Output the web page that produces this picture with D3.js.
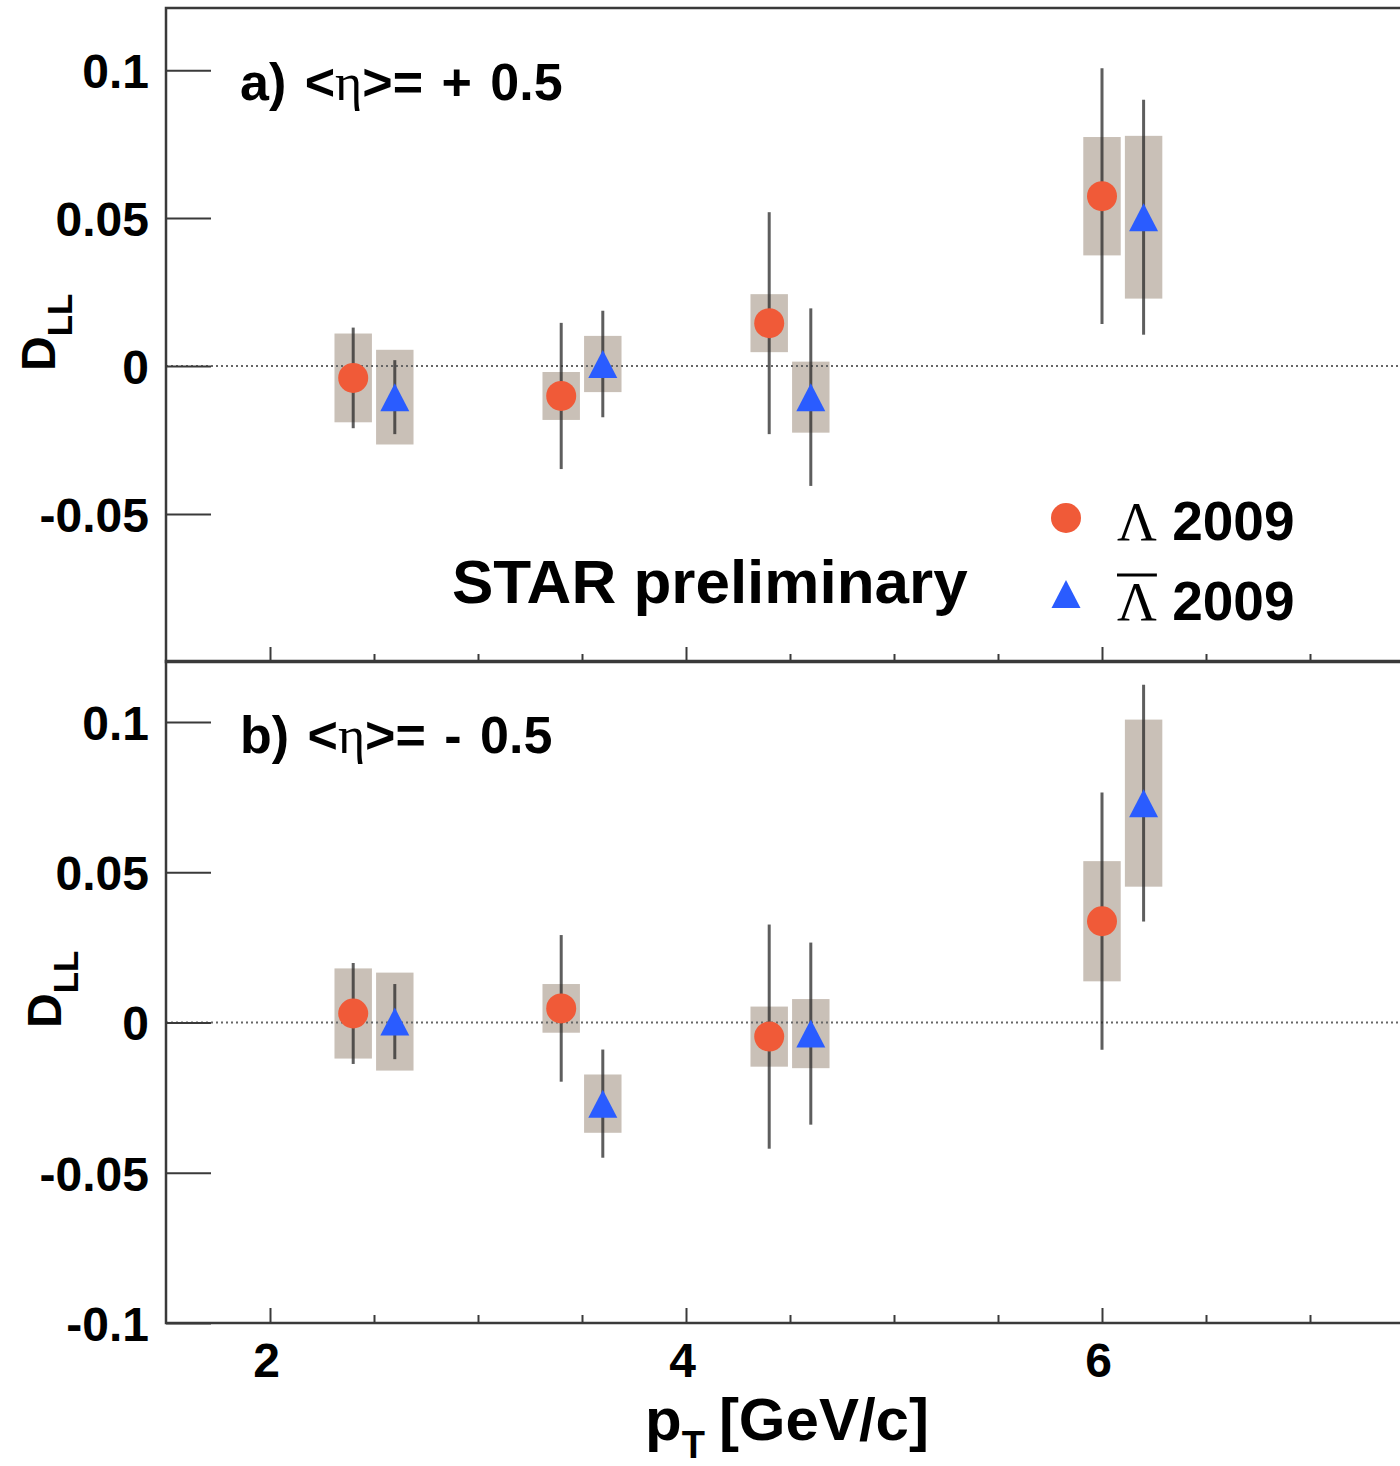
<!DOCTYPE html>
<html>
<head>
<meta charset="utf-8">
<script src="https://cdn.jsdelivr.net/npm/d3@7"></script>
<style>
body { margin: 0; background: #fff; }
svg text { font-family: "Liberation Sans", Arial, Helvetica, sans-serif; font-weight: bold; fill: #000; }
svg .greek { font-family: "Liberation Serif", "DejaVu Serif", serif; font-weight: normal; }
</style>
</head>
<body>
<svg id="chart" width="1400" height="1466"></svg>
<script>
// pT bin centres, Lambda and anti-Lambda shifted apart
var ptLambda = [2.4, 3.4, 4.4, 6.0];
var ptAnti = [2.6, 3.6, 4.6, 6.2];

// a) <eta> = +0.5
var dllLambdaA  = [-0.0040, -0.0101, 0.0145, 0.0574];
var statLambdaA = [0.0170, 0.0247, 0.0375, 0.0432];
var sysLambdaA  = [0.0150, 0.0081, 0.0098, 0.0200];
var dllAntiA    = [-0.0105, 0.0007, -0.0105, 0.0503];
var statAntiA   = [0.0125, 0.0180, 0.0300, 0.0397];
var sysAntiA    = [0.0160, 0.0095, 0.0120, 0.0275];

// b) <eta> = -0.5
var dllLambdaB  = [0.0030, 0.0047, -0.0047, 0.0337];
var statLambdaB = [0.0168, 0.0244, 0.0373, 0.0428];
var sysLambdaB  = [0.0150, 0.0081, 0.0100, 0.0200];
var dllAntiB    = [0.0003, -0.0270, -0.0037, 0.0730];
var statAntiB   = [0.0125, 0.0180, 0.0303, 0.0394];
var sysAntiB    = [0.0163, 0.0097, 0.0115, 0.0278];

var yTicksA = [-0.05, 0, 0.05, 0.1];
var yTicksB = [-0.1, -0.05, 0, 0.05, 0.1];
var xMajorTicks = [2, 4, 6];
var xMinorTicks = [2.5, 3, 3.5, 4.5, 5, 5.5, 6.5, 7, 7.5];

var BOX_HALF = 0.09;  // half width of systematic boxes, in pT units
var RED = '#f05a38', BLUE = '#2a5cff';
var FRAME = '#3a3a3a';

var svg = d3.select('#chart');

var x = d3.scaleLinear().domain([1.5, 8]).range([166, 1518]);

function series(pt, dll, stat, sys) {
    return pt.map(function (p, i) {
        return { pt: p, dll: dll[i], stat: stat[i], sys: sys[i] };
    });
}

var panels = [
    {
        y: d3.scaleLinear().domain([-0.1, 0.121]).range([662, 8]),
        yTicks: yTicksA,
        lambda: series(ptLambda, dllLambdaA, statLambdaA, sysLambdaA),
        anti: series(ptAnti, dllAntiA, statAntiA, sysAntiA),
        xLabels: false
    },
    {
        y: d3.scaleLinear().domain([-0.1, 0.1203]).range([1323, 661]),
        yTicks: yTicksB,
        lambda: series(ptLambda, dllLambdaB, statLambdaB, sysLambdaB),
        anti: series(ptAnti, dllAntiB, statAntiB, sysAntiB),
        xLabels: true
    }
];

var triangle = 'M0,-14L14.5,14L-14.5,14Z';

function drawPanel(p) {
    var y = p.y;
    var g = svg.append('g');
    var y0 = y.range()[0], y1 = y.range()[1];

    var all = p.lambda.concat(p.anti);

    // systematic boxes
    g.selectAll('rect.sys')
        .data(all)
        .enter().append('rect')
        .attr('class', 'sys')
        .attr('x', function (d) { return x(d.pt - BOX_HALF); })
        .attr('width', function (d) { return x(d.pt + BOX_HALF) - x(d.pt - BOX_HALF); })
        .attr('y', function (d) { return y(d.dll + d.sys); })
        .attr('height', function (d) { return y(d.dll - d.sys) - y(d.dll + d.sys); })
        .style('fill', '#c9c0b7');

    // zero line
    g.append('line')
        .attr('x1', x.range()[0]).attr('x2', x.range()[1])
        .attr('y1', y(0)).attr('y2', y(0))
        .style('stroke', '#666')
        .style('stroke-width', 2)
        .style('stroke-dasharray', '2,3');

    // statistical error bars
    g.selectAll('line.stat')
        .data(all)
        .enter().append('line')
        .attr('class', 'stat')
        .attr('x1', function (d) { return x(d.pt); })
        .attr('x2', function (d) { return x(d.pt); })
        .attr('y1', function (d) { return y(d.dll + d.stat); })
        .attr('y2', function (d) { return y(d.dll - d.stat); })
        .style('stroke', 'rgba(40,40,40,0.75)')
        .style('stroke-width', 3);

    g.selectAll('circle.lam')
        .data(p.lambda)
        .enter().append('circle')
        .attr('class', 'lam')
        .attr('cx', function (d) { return x(d.pt); })
        .attr('cy', function (d) { return y(d.dll); })
        .attr('r', 15)
        .style('fill', RED);

    g.selectAll('path.anti')
        .data(p.anti)
        .enter().append('path')
        .attr('class', 'anti')
        .attr('d', triangle)
        .attr('transform', function (d) { return 'translate(' + x(d.pt) + ',' + y(d.dll) + ')'; })
        .style('fill', BLUE);

    // y axis, ticks point into the frame
    var yAxis = d3.axisLeft(y)
        .tickValues(p.yTicks)
        .tickSizeInner(-45)
        .tickSizeOuter(0)
        .tickPadding(17)
        .tickFormat(function (d) { return d === 0 ? '0' : String(d); });
    var ya = g.append('g')
        .attr('transform', 'translate(' + x.range()[0] + ',0)')
        .call(yAxis);
    ya.select('.domain').remove();
    ya.selectAll('line').style('stroke', FRAME).style('stroke-width', 2);
    ya.selectAll('text')
        .style('font-size', '48px')
        .attr('dy', '0.36em');

    // x axis along the bottom of each panel
    var xMajor = d3.axisBottom(x)
        .tickValues(xMajorTicks)
        .tickSizeInner(-15)
        .tickSizeOuter(0)
        .tickPadding(20)
        .tickFormat(p.xLabels ? d3.format('d') : '');
    var xa = g.append('g')
        .attr('transform', 'translate(0,' + y0 + ')')
        .call(xMajor);
    xa.select('.domain').remove();
    xa.selectAll('line').style('stroke', FRAME).style('stroke-width', 2);
    xa.selectAll('text')
        .style('font-size', '48px')
        .attr('dx', '-4');

    var xMinor = d3.axisBottom(x)
        .tickValues(xMinorTicks)
        .tickSizeInner(-8)
        .tickSizeOuter(0)
        .tickFormat('');
    var xm = g.append('g')
        .attr('transform', 'translate(0,' + y0 + ')')
        .call(xMinor);
    xm.select('.domain').remove();
    xm.selectAll('line').style('stroke', FRAME).style('stroke-width', 2);

    // frame
    g.append('rect')
        .attr('x', x.range()[0])
        .attr('y', y1)
        .attr('width', x.range()[1] - x.range()[0])
        .attr('height', y0 - y1)
        .style('fill', 'none')
        .style('stroke', FRAME)
        .style('stroke-width', 2.5);

    return g;
}

panels.forEach(drawPanel);

// panel labels
function etaLabel(tx, ty, tag, value) {
    var t = svg.append('text')
        .attr('x', tx).attr('y', ty)
        .style('font-size', '52px')
        .style('word-spacing', '4px');
    t.append('tspan').text(tag + ') <');
    t.append('tspan').attr('class', 'greek').text('\u03b7');
    t.append('tspan').text('>= ' + value);
}
etaLabel(240, 100, 'a', '+ 0.5');
etaLabel(240, 753, 'b', '- 0.5');

// y titles
function yTitle(tx, ty) {
    var t = svg.append('text')
        .attr('transform', 'translate(' + tx + ',' + ty + ') rotate(-90)')
        .style('font-size', '48px');
    t.append('tspan').text('D');
    t.append('tspan').attr('dy', 17).style('font-size', '35px').text('LL');
}
yTitle(55, 371);
yTitle(61, 1028);

// x title
var xt = svg.append('text')
    .attr('x', 645).attr('y', 1440)
    .style('font-size', '60px');
xt.append('tspan').text('p');
xt.append('tspan').attr('dy', 18).style('font-size', '38px').text('T');
xt.append('tspan').attr('dy', -18).attr('dx', 14).text('[GeV/c]');

svg.append('text')
    .attr('x', 452).attr('y', 603)
    .style('font-size', '62px')
    .text('STAR preliminary');

// legend
var legend = svg.append('g');
legend.append('circle')
    .attr('cx', 1066).attr('cy', 518).attr('r', 15)
    .style('fill', RED);
legend.append('path')
    .attr('d', triangle)
    .attr('transform', 'translate(1066,594)')
    .style('fill', BLUE);

function legendText(ty, bar) {
    var t = legend.append('text')
        .attr('x', 1117).attr('y', ty)
        .style('font-size', '55px');
    var lam = t.append('tspan').attr('class', 'greek').text('\u039b');
    t.append('tspan').text(' 2009');
    if (bar) {
        var w = lam.node().getComputedTextLength();
        legend.append('line')
            .attr('x1', 1117).attr('x2', 1117 + w)
            .attr('y1', ty - 45).attr('y2', ty - 45)
            .style('stroke', '#000')
            .style('stroke-width', 3);
    }
}
legendText(540, false);
legendText(620, true);
</script>
</body>
</html>
